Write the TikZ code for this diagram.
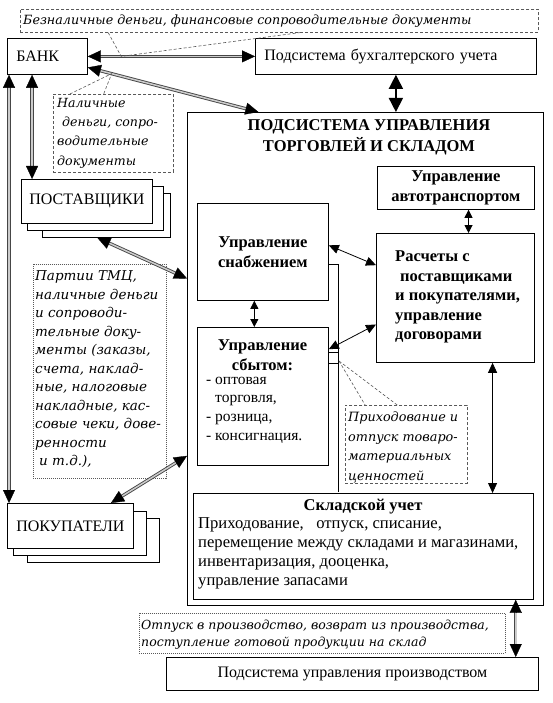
\documentclass[tikz,border=0pt]{standalone}
\usepackage{fontspec}
\setmainfont{Liberation Serif}
\newfontfamily\lblfont{DejaVu Serif}
\usetikzlibrary{arrows.meta,calc}
\tikzset{
  bigtip/.tip={Triangle[length=13pt,width=12pt,color=black,fill=black]},
  hugetip/.tip={Triangle[length=14pt,width=14pt,color=black,fill=black]},
  midtip/.tip={Triangle[length=10pt,width=9pt,color=black,fill=black]},
  smalltip/.tip={Triangle[length=8pt,width=8pt,color=black,fill=black]},
}
\begin{document}
\begin{tikzpicture}[x=1pt,y=-1pt,
  box/.style={draw=black,line width=0.8pt,fill=white,inner sep=0pt,anchor=north west},
  txt/.style={font=\fontsize{16}{19}\selectfont},
  btxt/.style={font=\bfseries\fontsize{16.5}{20}\selectfont},
  plain/.style={inner sep=0pt,anchor=west,align=left},
  lbl/.style={font=\lblfont\itshape\fontsize{13.5}{18.5}\selectfont,inner sep=0pt,anchor=west,align=left},
  dashbox/.style={draw=gray!70!black,line width=0.6pt,dash pattern=on 3pt off 2pt,inner sep=0pt,anchor=north west},
  dotbox/.style={draw=gray!70!black,line width=0.6pt,dash pattern=on 1pt off 1pt,inner sep=0pt,anchor=north west},
  callout/.style={draw=gray!70!black,line width=0.6pt,dash pattern=on 3pt off 2pt},
  dbl/.style={draw=gray!40,line width=0.3pt,
    preaction={draw=gray!55!black,double=gray!40,double distance=1.5pt,line width=0.9pt,arrows=-,shorten <=11pt,shorten >=11pt}},
  thinarrow/.style={draw=black,line width=0.8pt},
  heavy/.style={draw=black,line width=1.5pt},
  outline/.style={draw=black,line width=0.8pt}
]
\useasboundingbox (0,0) rectangle (553,703);
\fill[white] (0,0) rectangle (553,703);

% top note
\node[dashbox,minimum width=518pt,minimum height=23pt] (topnote) at (20,9) {};
\node[lbl,font=\lblfont\itshape\fontsize{12.7}{18}\selectfont] (topnotetext) at (23,21) {Безналичные деньги, финансовые сопроводительные документы};

% bank and accounting
\node[box,minimum width=80pt,minimum height=36pt,text width=62pt,inner xsep=9pt,align=left,txt] (bank) at (7,38) {БАНК};
\node[box,minimum width=281pt,minimum height=36pt,text width=263pt,inner xsep=9pt,align=left,txt] (buh) at (255,38) {\mbox{Подсистема бухгалтерского учета}};

% cash note
\node[dashbox,minimum width=120pt,minimum height=78pt] (cashnote) at (53,94) {};
\node[lbl,font=\lblfont\itshape\fontsize{12.6}{19.3}\selectfont] (cashtext) at (57,133) {Наличные\\\hspace{5pt}деньги, сопро-\\водительные\\документы};

% suppliers stack
\node[box,minimum width=128pt,minimum height=44pt] (post3) at (42,193) {};
\node[box,minimum width=136pt,minimum height=44pt] (post2) at (27,186) {};
\node[box,minimum width=131pt,minimum height=44pt,txt] (post) at (21,179) {ПОСТАВЩИКИ};

% parties note
\node[dotbox,minimum width=133pt,minimum height=214pt] (partnote) at (33,264) {};
\node[lbl] (parttext) at (35,369.5) {Партии ТМЦ,\\наличные деньги\\и сопроводи-\\тельные доку-\\менты (заказы,\\счета, наклад-\\ные, налоговые\\накладные, кас-\\совые чеки, дове-\\ренности\\\hspace{4pt}и т.д.),};

% customers stack
\node[box,minimum width=132pt,minimum height=44pt] (pok3) at (27,518) {};
\node[box,minimum width=133pt,minimum height=44pt] (pok2) at (13,511) {};
\node[box,minimum width=126pt,minimum height=45pt,txt] (pok) at (7,503) {ПОКУПАТЕЛИ};

% big subsystem
\node[box,line width=1pt,minimum width=356pt,minimum height=493pt] (big) at (187,112) {};
\node[font=\bfseries\fontsize{16.5}{21}\selectfont,align=center,inner sep=0pt] (bigtitle) at (369,137.5) {ПОДСИСТЕМА УПРАВЛЕНИЯ\\ТОРГОВЛЕЙ И СКЛАДОМ};

\node[box,minimum width=157pt,minimum height=43pt,btxt,align=center] (avt) at (377,166) {Управление\\автотранспортом};
\node[box,minimum width=131pt,minimum height=97pt,btxt,align=center] (snab) at (197,203) {Управление\\снабжением};

\node[box,minimum width=158pt,minimum height=129pt] (ras) at (376,233) {};
\node[plain,font=\bfseries\fontsize{16.5}{19.5}\selectfont] (rastext) at (395,297) {Расчеты с\\\hspace{5pt}поставщиками\\и покупателями,\\управление\\договорами};

\node[box,minimum width=131pt,minimum height=138pt] (sbyt) at (197,327) {};
\node[font=\bfseries\fontsize{16.5}{20}\selectfont,align=center,inner sep=0pt] (sbythead) at (262.5,355) {Управление\\сбытом:};
\node[plain,font=\fontsize{15.5}{18.7}\selectfont] (sbytlist) at (206,410) {- оптовая\\\hspace{9pt}торговля,\\- розница,\\- консигнация.};

% hidden box edges behind
\draw[outline] (328,264) -- (338,264) -- (338,492);
\draw[outline] (328,352) -- (338,352);
\draw[outline] (328,363) -- (338,363);

% receipt note
\node[dashbox,minimum width=122pt,minimum height=78pt] (prihnote) at (345,405) {};
\node[lbl,font=\lblfont\itshape\fontsize{12.8}{19.5}\selectfont] (prihtext) at (348,447.5) {Приходование и\\отпуск товаро-\\материальных\\ценностей};

% warehouse
\node[box,minimum width=340pt,minimum height=106pt] (skl) at (193,493) {};
\node[font=\bfseries\fontsize{16.5}{20}\selectfont,inner sep=0pt] (skltitle) at (363,507) {Складской учет};
\node[plain,font=\fontsize{16.6}{18.8}\selectfont] (skltext) at (198,553.5) {Приходование,\ \ \ отпуск, списание,\\перемещение между складами и магазинами,\\инвентаризация, дооценка,\\управление запасами};

% production note and box
\node[dotbox,minimum width=366pt,minimum height=40pt] (prodnote) at (139,613) {};
\node[lbl,font=\lblfont\itshape\fontsize{12.5}{17}\selectfont] (prodnotetext) at (141,634.5) {Отпуск в производство, возврат из производства,\\поступление готовой продукции на склад};
\node[box,minimum width=372pt,minimum height=33pt,txt] (prod) at (166,657) {Подсистема управления производством};

% connectors
\draw[dbl,bigtip-bigtip] (bank.east) -- (buh.west);
\coordinate (c1) at ($(bank.east)!0.2!(buh.west)$);
\draw[callout] ($(topnote.south west)!0.17!(topnote.south east)$) -- (c1) -- ($(topnote.south west)!0.54!(topnote.south east)$);

\coordinate (b1) at ($(bank.north east)!0.8!(bank.south east)$);
\coordinate (b2) at ($(big.north west)!0.2!(big.north east)$);
\draw[dbl,bigtip-bigtip] (b1) -- (b2);
\coordinate (c2) at ($(b1)!0.14!(b2)$);
\draw[callout] ($(cashnote.north west)!0.14!(cashnote.north east)$) -- (c2) -- ($(cashnote.north west)!0.42!(cashnote.north east)$);

\coordinate (v1) at ($(bank.south west)!0.025!(bank.south east)$);
\draw[dbl,bigtip-bigtip] (v1) -- (v1 |- pok.north);
\coordinate (v2) at ($(bank.south west)!0.31!(bank.south east)$);
\draw[dbl,bigtip-bigtip] (v2) -- (v2 |- post.north);

\draw[heavy,hugetip-hugetip] (buh.south) -- (buh.south |- big.north);

\coordinate (p1) at ($(post3.south west)!0.43!(post3.south east)$);
\coordinate (p2) at ($(big.north west)!0.337!(big.south west)$);
\draw[dbl,bigtip-bigtip] (p1) -- (p2);
\coordinate (p3) at ($(big.north west)!0.696!(big.south west)$);
\coordinate (p4) at ($(pok.north west)!0.82!(pok.north east)$);
\draw[dbl,bigtip-bigtip] (p3) -- (p4);

\coordinate (a1) at ($(avt.south west)!0.58!(avt.south east)$);
\draw[thinarrow,smalltip-smalltip] (a1) -- (a1 |- ras.north);
\draw[thinarrow,midtip-midtip] ($(snab.north east)!0.433!(snab.south east)$) -- ($(ras.north west)!0.248!(ras.south west)$);
\draw[thinarrow,midtip-midtip] ($(ras.north west)!0.705!(ras.south west)$) -- ($(sbyt.north east)!0.16!(sbyt.south east)$);
\coordinate (s1) at ($(snab.south west)!0.435!(snab.south east)$);
\draw[thinarrow,smalltip-smalltip] (s1) -- (s1 |- sbyt.north);
\coordinate (r1) at ($(ras.south west)!0.734!(ras.south east)$);
\draw[thinarrow,midtip-midtip] (r1) -- (r1 |- skl.north);

\coordinate (c3) at (339,361);
\draw[callout] (c3) -- ($(prihnote.north west)!0.164!(prihnote.north east)$);
\draw[callout] (c3) -- ($(prihnote.north west)!0.426!(prihnote.north east)$);

\coordinate (k1) at ($(skl.south west)!0.947!(skl.south east)$);
\draw[dbl,bigtip-bigtip] (k1) -- (k1 |- prod.north);
\end{tikzpicture}
\end{document}
